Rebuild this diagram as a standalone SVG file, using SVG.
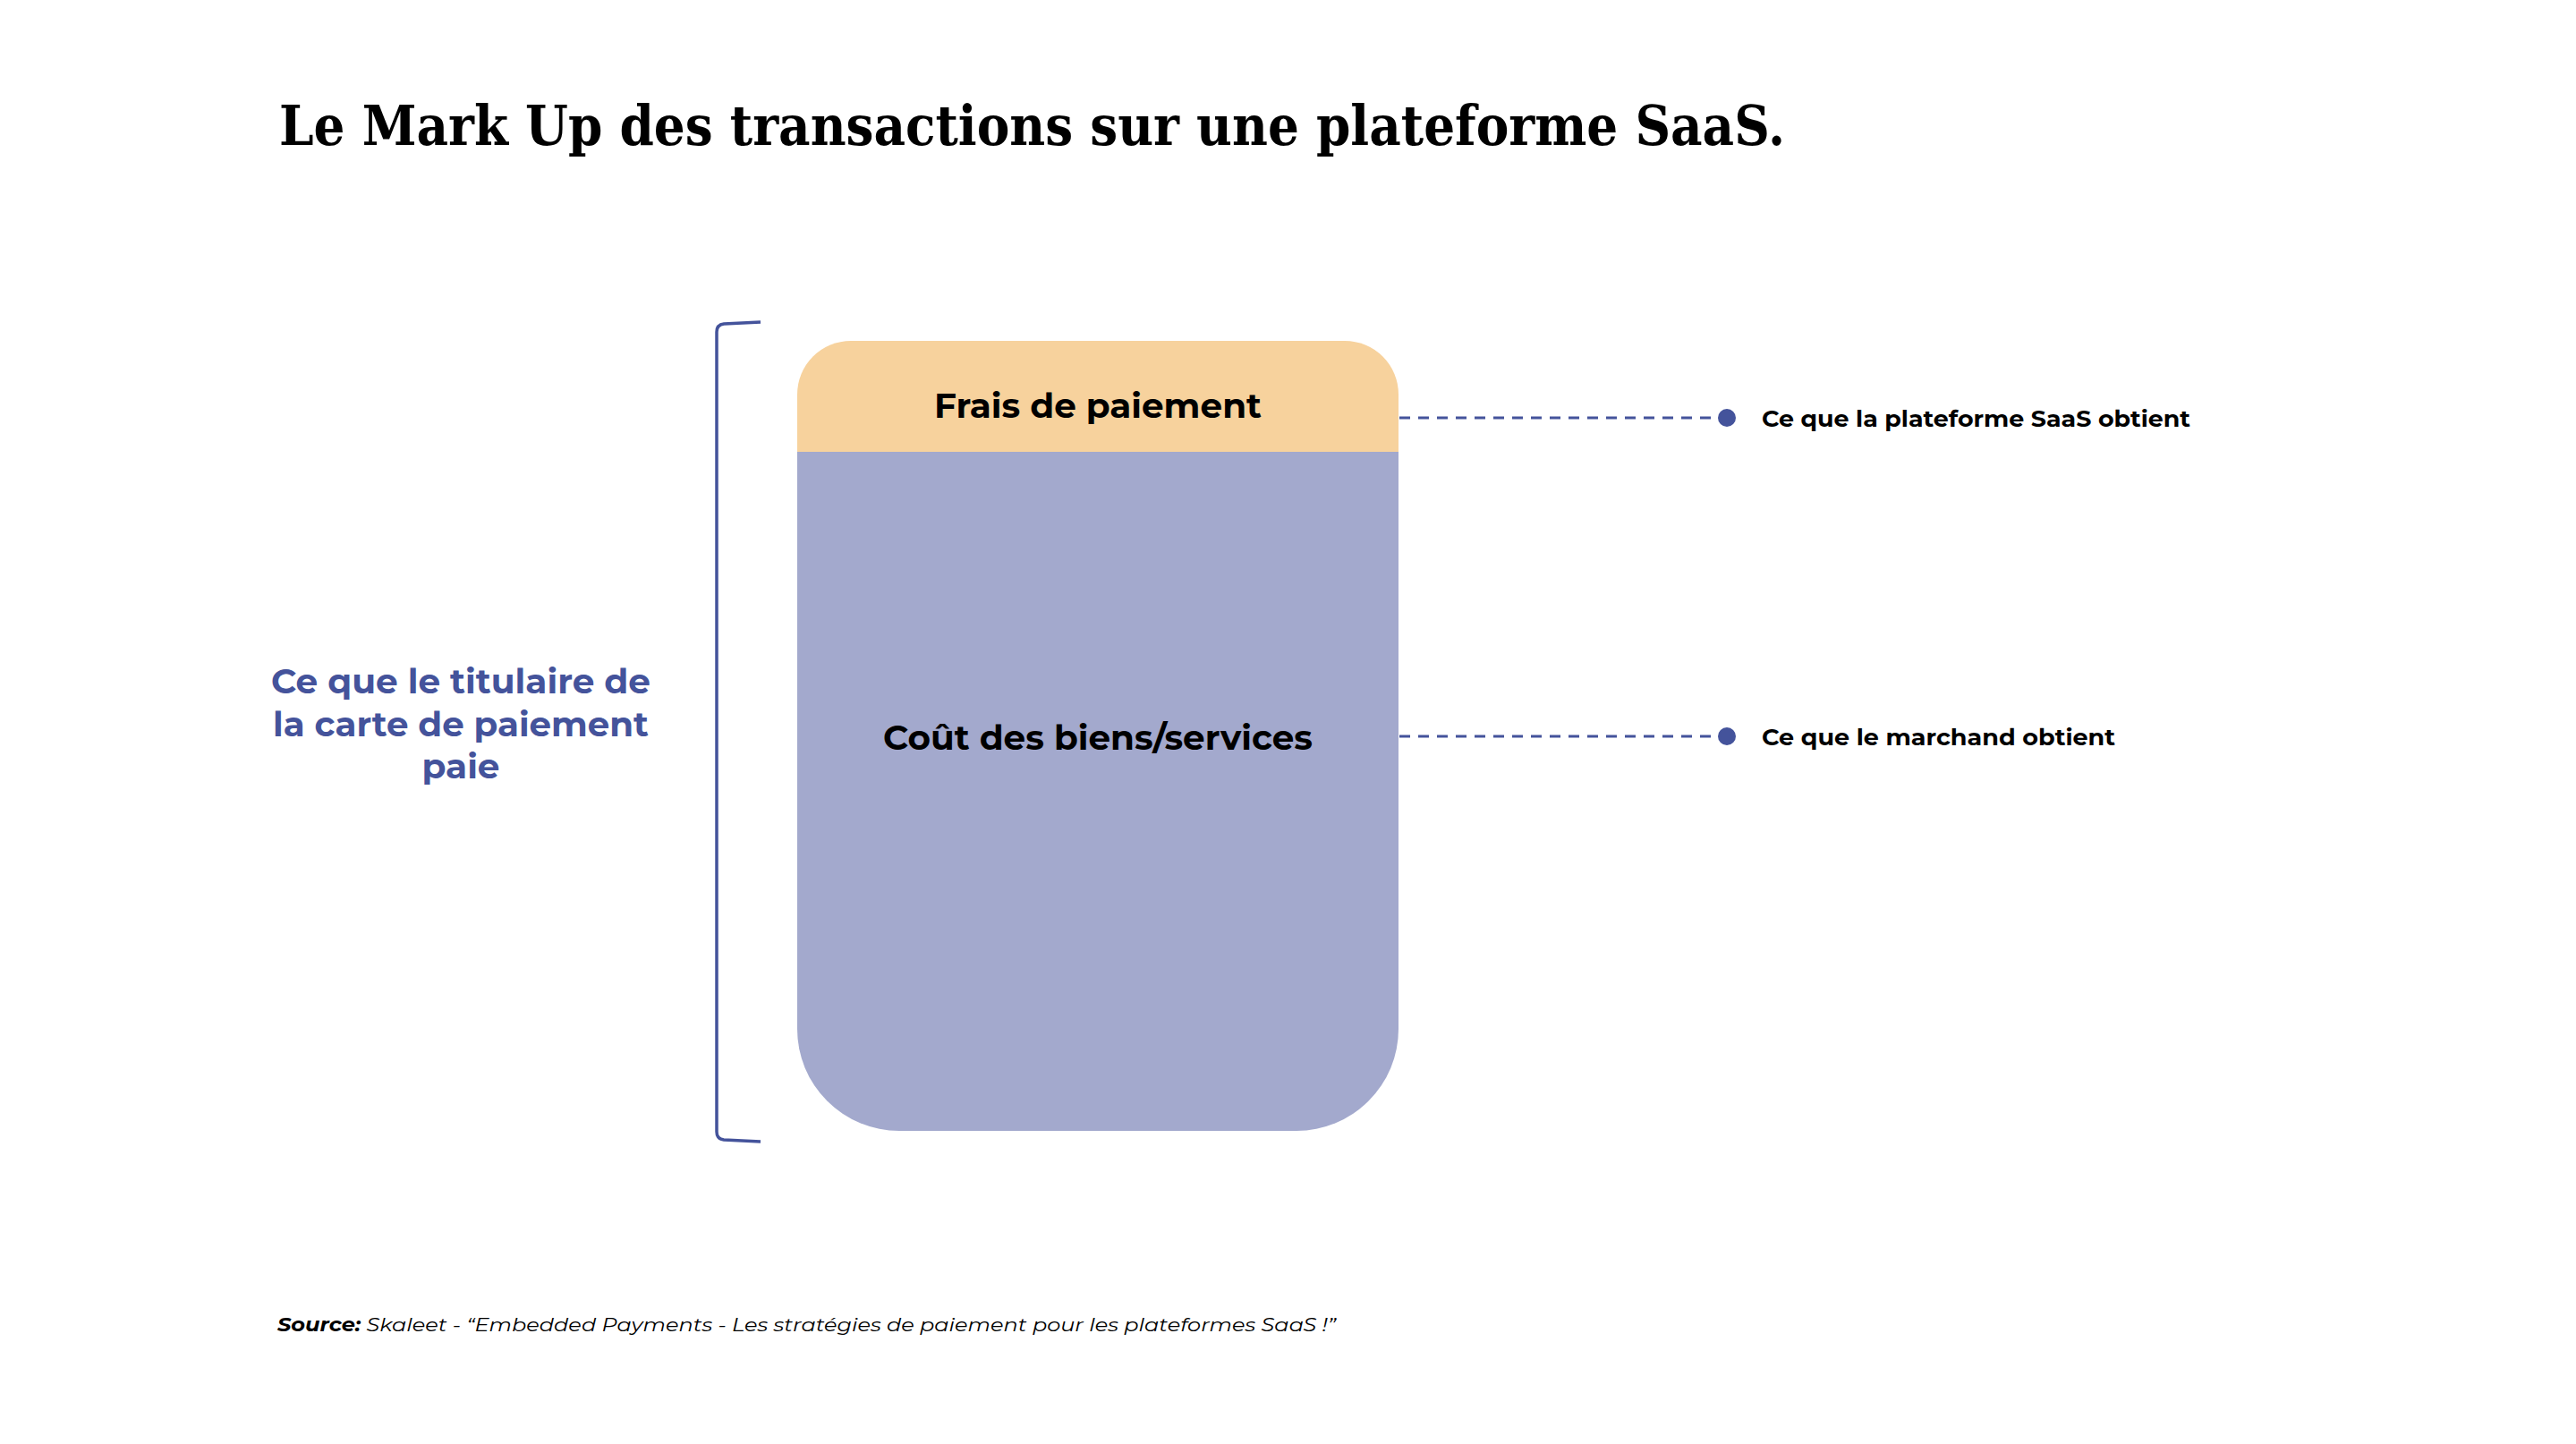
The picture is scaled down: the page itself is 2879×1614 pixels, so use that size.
<svg xmlns="http://www.w3.org/2000/svg" width="2879" height="1614" viewBox="0 0 2879 1614">
<style>
.title{font-family:"DejaVu Serif","Liberation Serif",serif;font-weight:bold;font-size:62px;fill:#000}
.box{font-family:Montserrat,Inter,"Open Sans",sans-serif;font-weight:700;font-size:38px;fill:#000;text-anchor:middle}
.lbl{font-family:Montserrat,Inter,"Open Sans",sans-serif;font-weight:700;font-size:26px;fill:#000}
.left{font-family:Montserrat,Inter,"Open Sans",sans-serif;font-weight:700;font-size:39px;fill:#44539B;text-anchor:middle}
.src{font-family:Montserrat,Inter,"Open Sans",sans-serif;font-size:21px;fill:#000;font-style:italic}
.dash{stroke:#44539B;stroke-width:3;stroke-dasharray:12 9;fill:none}
.dot{fill:#44539B}
</style>
<rect width="2879" height="1614" fill="#fff"/>
<g id="title"><text class="title" x="312" y="162" textLength="1683" lengthAdjust="spacingAndGlyphs">Le Mark Up des transactions sur une plateforme SaaS.</text></g>
<g id="bracket"><path d="M850,360 L809,362 Q801,363 801,371 L801,1265 Q801,1273 809,1274 L850,1276" fill="none" stroke="#44539B" stroke-width="3.5"/></g>
<g id="payer"><text class="left" x="515" y="775" textLength="424" lengthAdjust="spacingAndGlyphs">Ce que le titulaire de</text><text class="left" x="515" y="823" textLength="420" lengthAdjust="spacingAndGlyphs">la carte de paiement</text><text class="left" x="515" y="870">paie</text></g>
<g id="fees"><path d="M891,505 L891,441 A60,60 0 0 1 951,381 L1503,381 A60,60 0 0 1 1563,441 L1563,505 Z" fill="#F7D29D"/><text class="box" x="1227" y="467" textLength="366" lengthAdjust="spacingAndGlyphs">Frais de paiement</text></g>
<g id="cost"><path d="M891,505 L891,1150 A114,114 0 0 0 1005,1264 L1449,1264 A114,114 0 0 0 1563,1150 L1563,505 Z" fill="#A3A9CD"/><text class="box" x="1227" y="838" textLength="480" lengthAdjust="spacingAndGlyphs">Coût des biens/services</text></g>
<g id="connectors"><line class="dash" x1="1564" y1="467" x2="1922" y2="467"/><circle class="dot" cx="1930" cy="467" r="10"/><line class="dash" x1="1564" y1="823" x2="1922" y2="823"/><circle class="dot" cx="1930" cy="823" r="10"/></g>
<g id="saas"><text class="lbl" x="1969" y="477" textLength="479" lengthAdjust="spacingAndGlyphs">Ce que la plateforme SaaS obtient</text></g>
<g id="merchant"><text class="lbl" x="1969" y="833" textLength="395" lengthAdjust="spacingAndGlyphs">Ce que le marchand obtient</text></g>
<g id="source"><text class="src" x="310" y="1488" textLength="1183" lengthAdjust="spacingAndGlyphs"><tspan font-weight="700">Source:</tspan> Skaleet - “Embedded Payments - Les stratégies de paiement pour les plateformes SaaS !”</text></g>
</svg>
